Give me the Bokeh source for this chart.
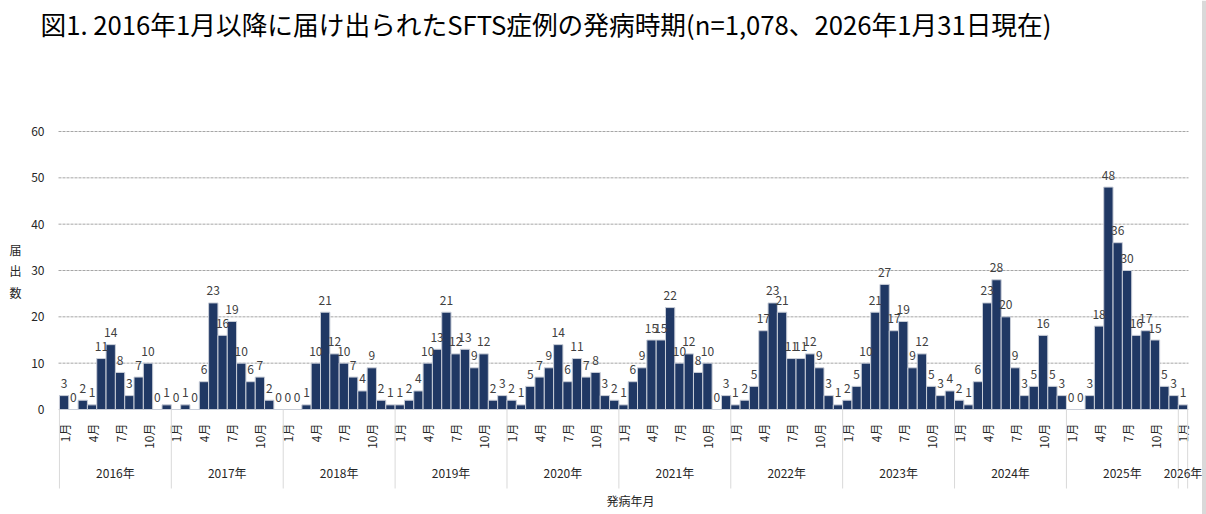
import math
from bokeh.plotting import figure
from bokeh.models import ColumnDataSource, Range1d
from bokeh.core.properties import value
from bokeh.embed import file_html
from bokeh.resources import INLINE

# ---------------- data ----------------
title_text = "図1. 2016年1月以降に届け出られたSFTS症例の発病時期(n=1,078、2026年1月31日現在)"
y_axis_title = "届出数"
x_axis_title = "発病年月"

year_labels = ["2016年", "2017年", "2018年", "2019年", "2020年", "2021年",
               "2022年", "2023年", "2024年", "2025年", "2026年"]
month_tick_labels = ["1月", "4月", "7月", "10月"]
y_ticks = [0, 10, 20, 30, 40, 50, 60]

c2016 = [3, 0, 2, 1, 11, 14, 8, 3, 7, 10, 0, 1]
c2017 = [0, 1, 0, 6, 23, 16, 19, 10, 6, 7, 2, 0]
c2018 = [0, 0, 1, 10, 21, 12, 10, 7, 4, 9, 2, 1]
c2019 = [1, 2, 4, 10, 13, 21, 12, 13, 9, 12, 2, 3]
c2020 = [2, 1, 5, 7, 9, 14, 6, 11, 7, 8, 3, 2]
c2021 = [1, 6, 9, 15, 15, 22, 10, 12, 8, 10, 0, 3]
c2022 = [1, 2, 5, 17, 23, 21, 11, 11, 12, 9, 3, 1]
c2023 = [2, 5, 10, 21, 27, 17, 19, 9, 12, 5, 3, 4]
c2024 = [2, 1, 6, 23, 28, 20, 9, 3, 5, 16, 5, 3]
c2025 = [0, 0, 3, 18, 48, 36, 30, 16, 17, 15, 5, 3]
c2026 = [1]

yearly = [c2016, c2017, c2018, c2019, c2020, c2021, c2022, c2023, c2024, c2025, c2026]

# ---------------- derived ----------------
counts = [v for yr in yearly for v in yr]
xs = list(range(len(counts)))

FONT = "Noto Sans CJK JP"
BAR = "#203864"
TXT = "#404040"
DARK = "#262626"

W, H = 1206, 514
PXX = 9.324          # pixels per month
CX0 = 63.6           # screen x of first bar centre
PXY = 278 / 60       # pixels per case
BASE = 409           # screen y of zero

X0 = (0 - CX0) / PXX
X1 = (W - CX0) / PXX
Y1 = BASE / PXY
Y0 = -(H - BASE) / PXY


def sx(screen_x):
    return (screen_x - CX0) / PXX


def sy(screen_y):
    return (BASE - screen_y) / PXY


p = figure(width=W, height=H, output_backend="svg", toolbar_location=None,
           title=None, x_range=Range1d(X0, X1), y_range=Range1d(Y0, Y1),
           min_border_left=0, min_border_right=0, min_border_top=0,
           min_border_bottom=0)
p.outline_line_color = None
p.xaxis.visible = False
p.yaxis.visible = False
p.xgrid.visible = False
p.ygrid.visible = False

# right edge strip
p.quad(left=[sx(1201.5)], right=[sx(1206)], bottom=[Y0], top=[Y1],
       fill_color="#d9d9d9", line_color=None)

# horizontal dashed grid lines (10..60)
grid_vals = [t for t in y_ticks if t > 0]
p.segment(x0=[sx(58)] * len(grid_vals), y0=grid_vals,
          x1=[sx(1188)] * len(grid_vals), y1=grid_vals,
          line_color="#a6a6a6", line_width=1, line_dash="3 1")

# y tick labels
p.text(x=[sx(44)] * len(y_ticks), y=y_ticks, text=[str(t) for t in y_ticks],
       text_font=value(FONT), text_font_size="12px", text_color=DARK,
       text_align="right", text_baseline="middle")

# baseline
p.segment(x0=[sx(58)], y0=[0], x1=[sx(1188)], y1=[0],
          line_color="#d9d9d9", line_width=1)

# bars
src = ColumnDataSource(dict(x=xs, v=counts, lab=[str(v) for v in counts]))
p.vbar(x="x", top="v", bottom=0, width=1.0, source=src, fill_color=BAR,
       line_color="#c9ced8", line_width=1)

# value labels
p.text(x="x", y="v", text="lab", source=src, text_font=value(FONT),
       text_font_size="12px", text_color=TXT, text_align="center",
       text_baseline="middle", y_offset=-12)

# month tick labels
mx, mt = [], []
for k in range(len(yearly)):
    for j, lab in enumerate(month_tick_labels):
        idx = 12 * k + 3 * j
        if idx < len(counts):
            mx.append(idx)
            mt.append(lab)
p.text(x=mx, y=[sy(423)] * len(mx), text=mt, angle=math.pi / 2,
       text_font=value(FONT), text_font_size="12px", text_color=DARK,
       text_align="right", text_baseline="middle")

# year separators
bx = [12 * k - 0.5 for k in range(len(yearly))] + [len(counts) - 0.5]
p.segment(x0=bx, y0=[0] * len(bx), x1=bx, y1=[sy(488)] * len(bx),
          line_color="#d9d9d9", line_width=1)

# year labels
yx = [12 * k + (len(yr) - 1) / 2 for k, yr in enumerate(yearly)]
p.text(x=yx, y=[sy(472)] * len(yx), text=year_labels, text_font=value(FONT),
       text_font_size="12px", text_color=DARK, text_align="center",
       text_baseline="middle")

# x axis title
p.text(x=[sx(630)], y=[sy(500)], text=[x_axis_title], text_font=value(FONT),
       text_font_size="12px", text_color=DARK, text_align="center",
       text_baseline="middle")

# y axis title (stacked characters)
p.text(x=[sx(15)] * len(y_axis_title), y=[sy(249), sy(270), sy(292)],
       text=list(y_axis_title), text_font=value(FONT), text_font_size="12px",
       text_color=DARK, text_align="center", text_baseline="middle")

# chart title
p.text(x=[sx(40)], y=[sy(23)], text=[title_text], text_font=value(FONT),
       text_font_size="25.7px", text_color="#000000", text_align="left",
       text_baseline="middle")

open("out.html", "w").write(file_html(p, INLINE))
